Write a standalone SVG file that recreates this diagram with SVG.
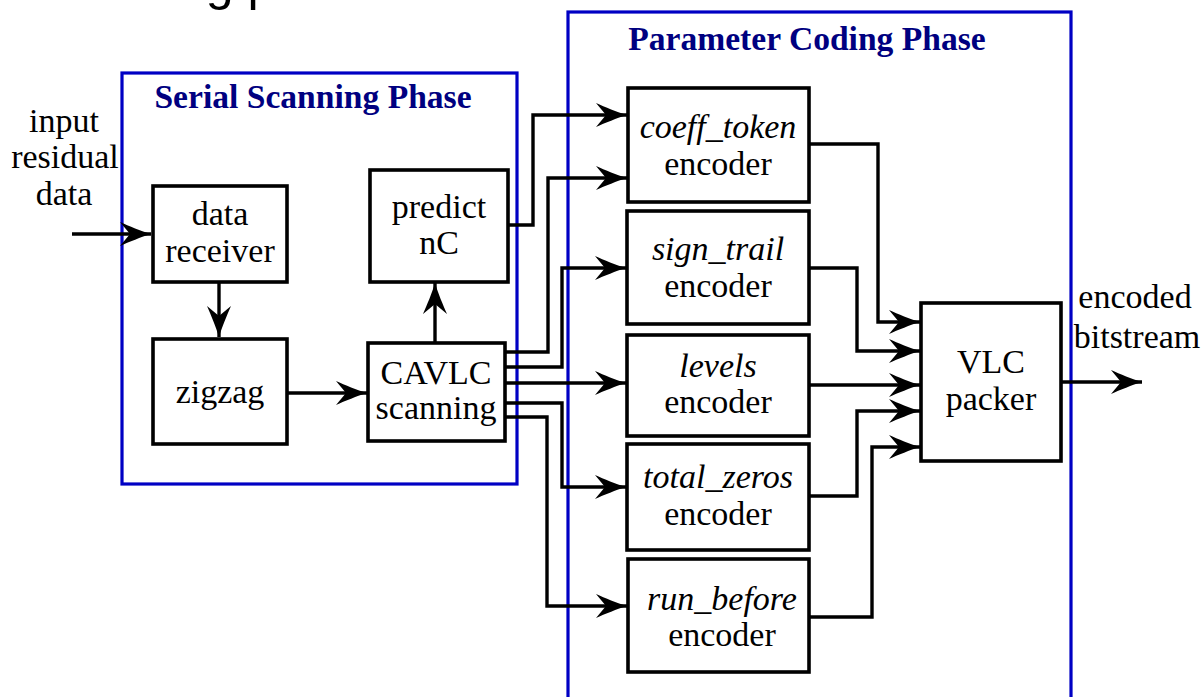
<svg xmlns="http://www.w3.org/2000/svg" width="1202" height="697" viewBox="0 0 1202 697">
  <style>
    .phase { fill: none; stroke: #0000c4; stroke-width: 3.2; }
    .phase-title { font-family: "Liberation Serif", "Times New Roman", serif; font-weight: bold; font-size: 33.6px; fill: #000080; text-anchor: middle; }
    .box { fill: #ffffff; stroke: #000000; stroke-width: 3.6; }
    .lbl { font-family: "Liberation Serif", "Times New Roman", serif; font-size: 34px; fill: #000000; text-anchor: middle; }
    .it { font-style: italic; }
    .wire { fill: none; stroke: #000000; stroke-width: 3.4; marker-end: url(#arrow); }
  </style>
  <defs>
    <marker id="arrow" viewBox="-32 -13 34 26" refX="0" refY="0" markerWidth="34" markerHeight="26" markerUnits="userSpaceOnUse" orient="auto">
      <path d="M0,0 C-10,-3 -22,-8 -31,-12 L-21,0 L-31,12 C-22,8 -10,3 0,0 Z" fill="#000000"/>
    </marker>
  </defs>
  <rect width="1202" height="697" fill="#ffffff"/>

  <!-- heading clipped at the top edge -->
  <text x="178" y="0" font-family="'Liberation Sans', Arial, sans-serif" font-size="50" fill="#000000">ng p</text>

  <!-- phase frames -->
  <g id="serial-scanning-phase">
    <rect class="phase" x="122" y="73" width="395" height="411"/>
    <text class="phase-title" x="313" y="108">Serial Scanning Phase</text>
  </g>
  <g id="parameter-coding-phase">
    <rect class="phase" x="568" y="12" width="503" height="700"/>
    <text class="phase-title" x="807" y="50">Parameter Coding Phase</text>
  </g>

  <!-- external labels -->
  <g id="input-label">
    <text class="lbl" x="64" y="132">input</text>
    <text class="lbl" x="65" y="168">residual</text>
    <text class="lbl" x="64" y="205">data</text>
  </g>
  <g id="output-label">
    <text class="lbl" x="1135" y="308">encoded</text>
    <text class="lbl" x="1137" y="348">bitstream</text>
  </g>

  <!-- scanning blocks -->
  <g id="data-receiver">
    <rect class="box" x="153" y="186" width="134" height="96"/>
    <text class="lbl" x="220" y="225">data</text>
    <text class="lbl" x="220" y="262">receiver</text>
  </g>
  <g id="zigzag">
    <rect class="box" x="153" y="339" width="134" height="105"/>
    <text class="lbl" x="220" y="403">zigzag</text>
  </g>
  <g id="predict-nc">
    <rect class="box" x="370" y="170" width="138" height="112"/>
    <text class="lbl" x="439" y="218">predict</text>
    <text class="lbl" x="439" y="254">nC</text>
  </g>
  <g id="cavlc-scanning">
    <rect class="box" x="368" y="343" width="137" height="98"/>
    <text class="lbl" x="436" y="384">CAVLC</text>
    <text class="lbl" x="436" y="419">scanning</text>
  </g>

  <!-- parameter encoders -->
  <g id="coeff-token-encoder">
    <rect class="box" x="628" y="88" width="181" height="114"/>
    <text class="lbl it" x="718" y="138">coeff_token</text>
    <text class="lbl" x="718" y="175">encoder</text>
  </g>
  <g id="sign-trail-encoder">
    <rect class="box" x="627" y="211" width="182" height="113"/>
    <text class="lbl it" x="718" y="260">sign_trail</text>
    <text class="lbl" x="718" y="297">encoder</text>
  </g>
  <g id="levels-encoder">
    <rect class="box" x="627" y="335" width="182" height="101"/>
    <text class="lbl it" x="718" y="377">levels</text>
    <text class="lbl" x="718" y="413">encoder</text>
  </g>
  <g id="total-zeros-encoder">
    <rect class="box" x="627" y="444" width="182" height="106"/>
    <text class="lbl it" x="718" y="488">total_zeros</text>
    <text class="lbl" x="718" y="525">encoder</text>
  </g>
  <g id="run-before-encoder">
    <rect class="box" x="628" y="559" width="181" height="113"/>
    <text class="lbl it" x="722" y="610">run_before</text>
    <text class="lbl" x="722" y="646">encoder</text>
  </g>
  <g id="vlc-packer">
    <rect class="box" x="921" y="303" width="140" height="158"/>
    <text class="lbl" x="991" y="373">VLC</text>
    <text class="lbl" x="991" y="410">packer</text>
  </g>

  <!-- connectors -->
  <g id="connectors">
    <path class="wire" d="M72,234 H151"/>
    <path class="wire" d="M219,282 V337"/>
    <path class="wire" d="M287,393 H367"/>
    <path class="wire" d="M435,343 V283"/>
    <path class="wire" d="M508,225 H533 V115 H627"/>
    <path class="wire" d="M505,352 H548 V178 H627"/>
    <path class="wire" d="M505,367 H562 V268 H626"/>
    <path class="wire" d="M505,383 H626"/>
    <path class="wire" d="M505,403 H562 V487 H626"/>
    <path class="wire" d="M505,417 H547 V606 H627"/>
    <path class="wire" d="M809,144 H878 V322 H920"/>
    <path class="wire" d="M809,268 H857 V351 H920"/>
    <path class="wire" d="M809,385 H920"/>
    <path class="wire" d="M809,496 H857 V411 H920"/>
    <path class="wire" d="M809,617 H872 V447 H920"/>
    <path class="wire" d="M1061,382 H1142"/>
  </g>
</svg>
